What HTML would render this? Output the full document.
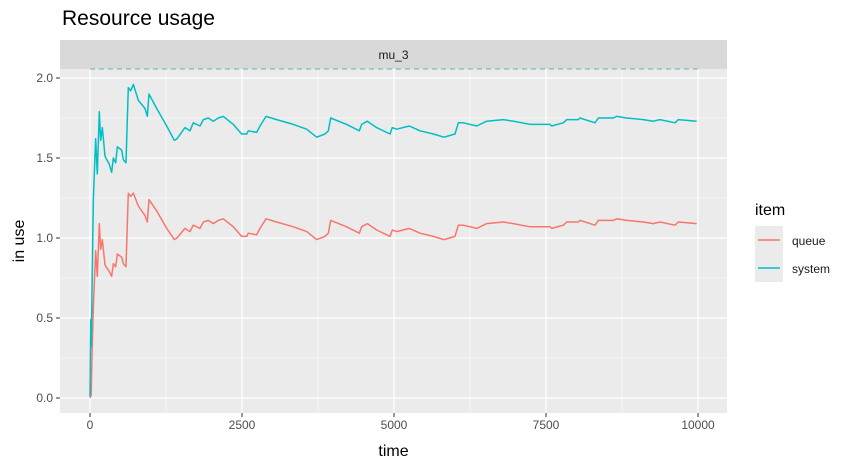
<!DOCTYPE html>
<html><head><meta charset="utf-8">
<style>
body{margin:0;background:#fff;font-family:"Liberation Sans",sans-serif}
</style></head>
<body>
<svg id="chart" width="856" height="468" viewBox="0 0 856 468" font-family="Liberation Sans, sans-serif">
<text x="62" y="25" font-size="21" fill="#000">Resource usage</text>
<rect x="60" y="40" width="667" height="29" fill="#d9d9d9"/>
<text x="393.5" y="59" font-size="12" fill="#1a1a1a" text-anchor="middle">mu_3</text>
<rect x="60" y="69" width="667" height="344" fill="#ebebeb"/>
<g id="grid"></g>
<g id="lines"></g>
<g id="axes"></g>
<text x="393.5" y="456" font-size="16" text-anchor="middle" fill="#000">time</text>
<text transform="translate(24,241) rotate(-90)" font-size="16" text-anchor="middle" fill="#000">in use</text>
<g>
<text x="755" y="215" font-size="16" fill="#000">item</text>
<rect x="755" y="226" width="28" height="28" fill="#ebebeb"/>
<line x1="758" y1="240" x2="780" y2="240" stroke="#f8766d" stroke-width="1.5"/>
<text x="792" y="245" font-size="12" fill="#1a1a1a">queue</text>
<rect x="755" y="254" width="28" height="28" fill="#ebebeb"/>
<line x1="758" y1="268" x2="780" y2="268" stroke="#00bfc4" stroke-width="1.5"/>
<text x="792" y="273" font-size="12" fill="#1a1a1a">system</text>
</g>
</svg>
<script>
const sysT=[0,12,20,55,93,120,153,175,203,247,318,356,384,422,450,521,548,592,630,669,713,795,904,943,970,1096,1261,1387,1430,1562,1644,1699,1809,1864,1946,2029,2110,2193,2357,2494,2577,2604,2741,2796,2895,3070,3344,3564,3728,3865,3920,3958,4221,4430,4468,4561,4715,4934,4972,5043,5252,5428,5647,5822,6003,6058,6140,6360,6524,6798,6962,7237,7566,7593,7785,7840,8032,8059,8306,8360,8607,8662,8826,9100,9265,9375,9622,9676,9978];
const sysV=[0.01,0.49,0.32,1.24,1.62,1.40,1.79,1.61,1.69,1.51,1.46,1.41,1.50,1.47,1.57,1.55,1.49,1.47,1.94,1.92,1.96,1.86,1.81,1.76,1.90,1.81,1.70,1.61,1.62,1.69,1.67,1.72,1.70,1.74,1.75,1.73,1.75,1.76,1.71,1.65,1.65,1.67,1.66,1.70,1.76,1.74,1.71,1.68,1.63,1.65,1.67,1.75,1.71,1.67,1.71,1.73,1.69,1.65,1.69,1.68,1.70,1.67,1.65,1.63,1.65,1.72,1.72,1.70,1.73,1.74,1.73,1.71,1.71,1.70,1.72,1.74,1.74,1.75,1.72,1.75,1.75,1.76,1.75,1.74,1.73,1.74,1.72,1.74,1.73];
const queT=[0,20,35,55,93,120,153,175,203,247,318,356,384,422,450,521,548,592,630,669,713,795,904,943,970,1096,1261,1387,1430,1562,1644,1699,1809,1864,1946,2029,2110,2193,2357,2494,2577,2604,2741,2796,2895,3070,3344,3564,3728,3865,3920,3958,4221,4430,4468,4561,4715,4934,4972,5043,5252,5428,5647,5822,6003,6058,6140,6360,6524,6798,6962,7237,7566,7593,7785,7840,8032,8059,8306,8360,8607,8662,8826,9100,9265,9375,9622,9676,9978];
const queV=[0.00,0.02,0.30,0.57,0.92,0.76,1.09,0.93,0.99,0.83,0.79,0.76,0.84,0.82,0.90,0.88,0.84,0.82,1.28,1.26,1.28,1.20,1.14,1.10,1.24,1.17,1.06,0.99,1.00,1.06,1.04,1.08,1.06,1.10,1.11,1.09,1.11,1.12,1.07,1.01,1.01,1.03,1.02,1.06,1.12,1.10,1.07,1.04,0.99,1.01,1.03,1.11,1.07,1.03,1.07,1.09,1.05,1.01,1.05,1.04,1.06,1.03,1.01,0.99,1.01,1.08,1.08,1.06,1.09,1.10,1.09,1.07,1.07,1.06,1.08,1.10,1.10,1.11,1.08,1.11,1.11,1.12,1.11,1.10,1.09,1.10,1.08,1.10,1.09];
const xTicks=[0,2500,5000,7500,10000];
const yTicks=[0,0.5,1.0,1.5,2.0];
const yTickLabels=["0.0","0.5","1.0","1.5","2.0"];
const limitV=[2.056];
const NS="http://www.w3.org/2000/svg";
const X=t=>90+t*152/2500;
const Y=v=>398-v*160;
const grid=document.getElementById('grid'),lines=document.getElementById('lines'),axes=document.getElementById('axes');
function mk(tag,attrs,parent){const e=document.createElementNS(NS,tag);for(const k in attrs)e.setAttribute(k,attrs[k]);parent.appendChild(e);return e;}
for(let i=0;i<xTicks.length-1;i++){const m=(xTicks[i]+xTicks[i+1])/2;const g=mk('line',{x1:X(m),x2:X(m),y1:69,y2:413,stroke:'#fff','stroke-width':0.6},grid);

}
for(let i=0;i<yTicks.length-1;i++){const m=(yTicks[i]+yTicks[i+1])/2;const g=mk('line',{x1:60,x2:727,y1:Y(m),y2:Y(m),stroke:'#fff','stroke-width':0.6},grid);

}
xTicks.forEach(t=>{const g=mk('line',{x1:X(t),x2:X(t),y1:69,y2:413,stroke:'#fff','stroke-width':1.2},grid);


mk('line',{x1:X(t),x2:X(t),y1:413,y2:417,stroke:'#333','stroke-width':1},axes);
const tx=mk('text',{x:X(t),y:429,'font-size':12,'text-anchor':'middle',fill:'#4d4d4d'},axes);tx.textContent=t;

});
yTicks.forEach((v,i)=>{const g=mk('line',{x1:60,x2:727,y1:Y(v),y2:Y(v),stroke:'#fff','stroke-width':1.2},grid);


mk('line',{x1:56,x2:60,y1:Y(v),y2:Y(v),stroke:'#333','stroke-width':1},axes);
const tx=mk('text',{x:53,y:Y(v)+4,'font-size':12,'text-anchor':'end',fill:'#4d4d4d'},axes);tx.textContent=yTickLabels[i];

});
limitV.forEach(v=>{const d=mk('line',{x1:X(0),x2:X(10000),y1:Y(v),y2:Y(v),stroke:'#5fb3b5','stroke-width':1,'stroke-dasharray':'5,4'},lines);

});
function series(T,V,color,name){const p=mk('polyline',{points:T.map((t,i)=>X(t)+','+Y(V[i])).join(' '),fill:'none',stroke:color,'stroke-width':1.5,'stroke-linejoin':'round'},lines);

}
series(queT,queV,'#f8766d','queue-line');
series(sysT,sysV,'#00bfc4','system-line');
</script>
</body></html>
